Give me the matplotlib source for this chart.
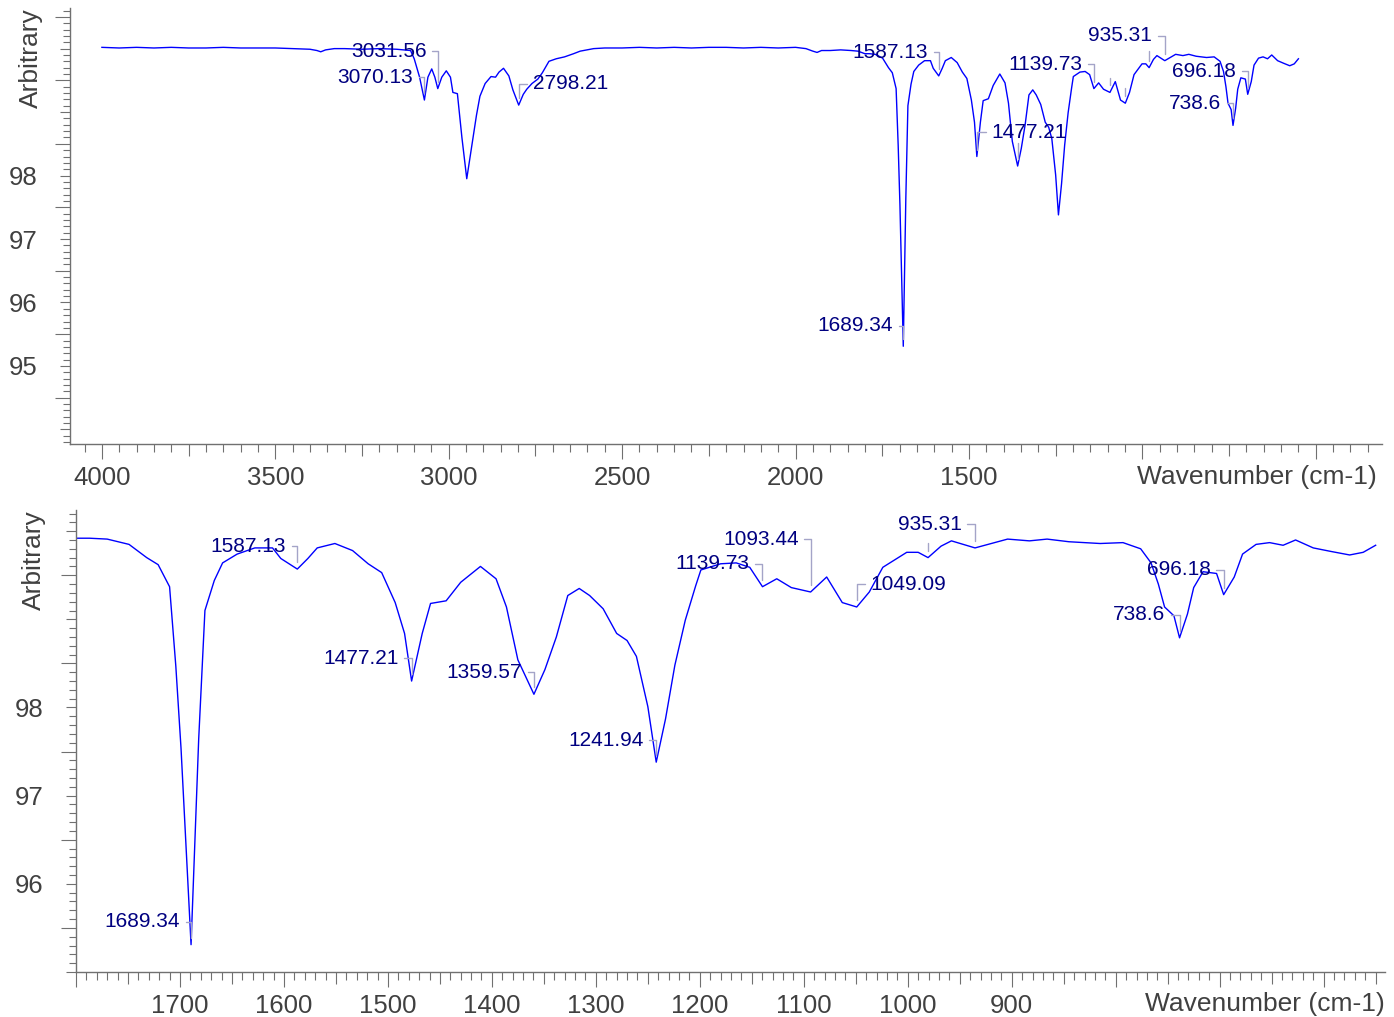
import numpy as np
import matplotlib
matplotlib.use('Agg')
import matplotlib.pyplot as plt
from matplotlib.ticker import MultipleLocator, FuncFormatter

plt.rcParams['font.family'] = ['Liberation Sans', 'DejaVu Sans']

# IR spectrum (wavenumber in cm-1, descending)
wavenumber = [
    4000, 3950, 3900, 3850, 3800, 3750, 3700, 3650, 3600, 3550, 3500, 3450,
    3400, 3380, 3369, 3355, 3330, 3300, 3250, 3200, 3150, 3110, 3099.5, 3084,
    3070.13, 3060, 3049, 3040, 3031.56, 3020, 3007, 2995, 2988, 2975, 2962,
    2948, 2930, 2920, 2910, 2895, 2878, 2865, 2855, 2842, 2826.6, 2815,
    2798.21, 2785, 2775, 2760, 2743, 2730, 2711, 2690, 2666, 2640, 2621, 2582,
    2550, 2500, 2450, 2400, 2350, 2300, 2250, 2200, 2150, 2100, 2050, 2000,
    1970, 1950, 1938, 1925, 1900, 1870, 1840, 1820, 1800, 1787, 1770, 1749,
    1732, 1721, 1710, 1704, 1699, 1689.34, 1682, 1676, 1667, 1659, 1645, 1628,
    1611, 1603, 1587.13, 1577, 1568, 1551, 1534, 1519, 1506, 1493, 1484,
    1477.21, 1467, 1459, 1444, 1430, 1411, 1396, 1386, 1375, 1359.57, 1349,
    1338, 1327, 1316, 1306, 1293, 1280, 1270, 1261, 1250, 1241.94, 1233, 1224,
    1214, 1204, 1199, 1180, 1165, 1152, 1139.73, 1126, 1112, 1093.44, 1078,
    1063, 1049.09, 1037, 1024, 1001, 990, 980.5, 968, 958, 935.31, 904, 883,
    866, 845, 815, 793, 776, 766, 759, 753, 744, 738.6, 731, 725, 716, 703,
    696.18, 686, 678, 665, 652, 639, 627, 610, 593, 575, 562, 550,
]
transmittance = [
    100.02, 100.01, 100.02, 100.01, 100.02, 100.01, 100.01, 100.02, 100.01,
    100.01, 100.01, 100.0, 99.99, 99.97, 99.95, 99.98, 100.0, 100.0, 99.99,
    100.0, 99.99, 99.97, 99.84, 99.55, 99.19, 99.55, 99.68, 99.55, 99.37,
    99.55, 99.65, 99.55, 99.31, 99.29, 98.6, 97.95, 98.6, 98.95, 99.25, 99.45,
    99.56, 99.55, 99.63, 99.69, 99.57, 99.35, 99.11, 99.28, 99.36, 99.45,
    99.52, 99.62, 99.80, 99.84, 99.87, 99.92, 99.96, 100.0, 100.01, 100.01,
    100.02, 100.01, 100.02, 100.01, 100.02, 100.02, 100.01, 100.02, 100.01,
    100.02, 100.0, 99.96, 99.94, 99.97, 99.97, 99.98, 99.97, 99.96, 99.92,
    99.92, 99.91, 99.85, 99.70, 99.62, 99.37, 98.47, 97.54, 95.31, 97.64,
    99.10, 99.44, 99.64, 99.74, 99.81, 99.81, 99.69, 99.57, 99.69, 99.81,
    99.86, 99.78, 99.63, 99.53, 99.19, 98.84, 98.30, 98.84, 99.18, 99.21,
    99.42, 99.60, 99.46, 99.14, 98.54, 98.15, 98.43, 98.80, 99.27, 99.35,
    99.27, 99.12, 98.84, 98.76, 98.58, 98.01, 97.38, 97.87, 98.48, 98.99,
    99.38, 99.56, 99.63, 99.64, 99.59, 99.37, 99.46, 99.36, 99.31, 99.48,
    99.19, 99.14, 99.31, 99.59, 99.76, 99.76, 99.70, 99.83, 99.89, 99.81,
    99.91, 99.89, 99.91, 99.88, 99.86, 99.87, 99.80, 99.64, 99.40, 99.14,
    99.04, 98.79, 99.06, 99.36, 99.54, 99.52, 99.28, 99.48, 99.74, 99.85,
    99.87, 99.84, 99.90, 99.81, 99.77, 99.73, 99.76, 99.84,
]

# picked peaks
peaks = [3070.13, 3031.56, 2798.21, 1689.34, 1587.13, 1477.21, 1359.57,
         1241.94, 1139.73, 1093.44, 1049.09, 980.5, 935.31, 738.6, 696.18]

# label placement per panel: peak -> (text x, text y, alignment); a None
# alignment means the marker line is drawn but the label is hidden
top_layout = {
    3070.13: (3103, 99.55, 'right'),
    3031.56: (3063, 99.96, 'right'),
    2798.21: (2757, 99.45, 'left'),
    1689.34: (1719, 95.63, 'right'),
    1587.13: (1618, 99.94, 'right'),
    1477.21: (1434, 98.68, 'left'),
    1359.57: (1359.57, 98.55, None),
    1139.73: (1174, 99.75, 'right'),
    1093.44: (1093.44, 99.58, None),
    1049.09: (1049.09, 99.42, None),
    980.5: (980.5, 100.0, None),
    935.31: (972, 100.20, 'right'),
    738.6: (773, 99.14, 'right'),
    696.18: (730, 99.64, 'right'),
}
bottom_layout = {
    1689.34: (1700, 95.57, 'right'),
    1587.13: (1598, 99.83, 'right'),
    1477.21: (1489.4, 98.56, 'right'),
    1359.57: (1371, 98.40, 'right'),
    1241.94: (1254, 97.63, 'right'),
    1139.73: (1152, 99.63, 'right'),
    1093.44: (1105, 99.91, 'right'),
    1049.09: (1035.6, 99.40, 'left'),
    980.5: (980.5, 99.90, None),
    935.31: (948, 100.08, 'right'),
    738.6: (752, 99.05, 'right'),
    696.18: (708.7, 99.56, 'right'),
}

wn = np.array(wavenumber)
tr = np.array(transmittance)

TICK_GRAY = '#707070'
LABEL_GRAY = '#404040'
LINE_BLUE = '#0000ff'
PEAK_NAVY = '#000080'
LEADER = '#a4a4c8'


def set_tick_lengths(axis, long_step, long_len, short_len):
    locs = axis.get_majorticklocs()
    for tick, v in zip(axis.get_major_ticks(len(locs)), locs):
        r = v / long_step
        if abs(r - round(r)) < 1e-6:
            tick.tick1line.set_markersize(long_len)
        else:
            tick.tick1line.set_markersize(short_len)


def draw_panel(ax, xlim, ylim, layout, big, mid, small, xlab_range, ylab_range):
    ax.plot(wn, tr, color=LINE_BLUE, lw=1.0)
    ax.set_xlim(*xlim)
    ax.set_ylim(*ylim)

    for s in ['top', 'right']:
        ax.spines[s].set_visible(False)
    for s in ['left', 'bottom']:
        ax.spines[s].set_color(TICK_GRAY)
        ax.spines[s].set_linewidth(1.0)

    def xfmt(v, p):
        if round(v) % big == 0 and xlab_range[0] <= v <= xlab_range[1]:
            return f'{v:.0f}'
        return ''

    def yfmt(v, p):
        if abs(v - round(v)) < 1e-6 and ylab_range[0] <= round(v) <= ylab_range[1]:
            return f'{v:.0f}'
        return ''

    ax.xaxis.set_major_locator(MultipleLocator(mid))
    ax.xaxis.set_minor_locator(MultipleLocator(small))
    ax.xaxis.set_major_formatter(FuncFormatter(xfmt))
    ax.yaxis.set_major_locator(MultipleLocator(0.5))
    ax.yaxis.set_minor_locator(MultipleLocator(0.1))
    ax.yaxis.set_major_formatter(FuncFormatter(yfmt))

    ax.tick_params(axis='x', which='major', length=10.8, width=0.8,
                   color=TICK_GRAY, labelcolor=LABEL_GRAY, labelsize=18.5, pad=5)
    ax.tick_params(axis='x', which='minor', length=5.8, width=0.8, color=TICK_GRAY)
    ax.tick_params(axis='y', which='major', length=7.2, width=0.8,
                   color=TICK_GRAY, labelcolor=LABEL_GRAY, labelsize=18.5, pad=16)
    ax.tick_params(axis='y', which='minor', length=5.0, width=0.8, color=TICK_GRAY)

    set_tick_lengths(ax.xaxis, big, 10.8, 8.6)
    set_tick_lengths(ax.yaxis, 1.0, 7.2, 10.8)

    ax.set_ylabel('Arbitrary', loc='top', fontsize=19, color=LABEL_GRAY)
    ax.set_xlabel('Wavenumber (cm-1)', loc='right', fontsize=19, color=LABEL_GRAY)

    for p in peaks:
        if p not in layout:
            continue
        tx, ty, ha = layout[p]
        py = np.interp(p, wn[::-1], tr[::-1])
        text = '' if ha is None else f'{p:g}'
        ax.annotate(text, xy=(p, py), xytext=(tx, ty),
                    ha=ha or 'center', va='center', fontsize=15, color=PEAK_NAVY,
                    arrowprops=dict(arrowstyle='-', color=LEADER, lw=1.0,
                                    shrinkA=2, shrinkB=5,
                                    connectionstyle='angle,angleA=0,angleB=90,rad=0'))


fig = plt.figure(figsize=(13.94, 10.17), dpi=100)
ax1 = fig.add_axes([70 / 1394, 1 - 444 / 1017, 1312 / 1394, 436 / 1017])
ax2 = fig.add_axes([76 / 1394, 1 - 972 / 1017, 1309 / 1394, 462 / 1017])

draw_panel(ax1, (4092, 309), (93.77, 100.64), top_layout, 500, 250, 50,
           (1500, 4000), (95, 98))
draw_panel(ax2, (1800, 541), (95.0, 100.24), bottom_layout, 100, 50, 10,
           (900, 1700), (96, 98))

ax1.yaxis.set_label_coords(-0.0205, 1.0)
ax2.yaxis.set_label_coords(-0.023, 1.0)
ax1.xaxis.set_label_coords(0.996, -0.048)
ax2.xaxis.set_label_coords(1.0, -0.043)

fig.savefig('out.png', dpi=100)
